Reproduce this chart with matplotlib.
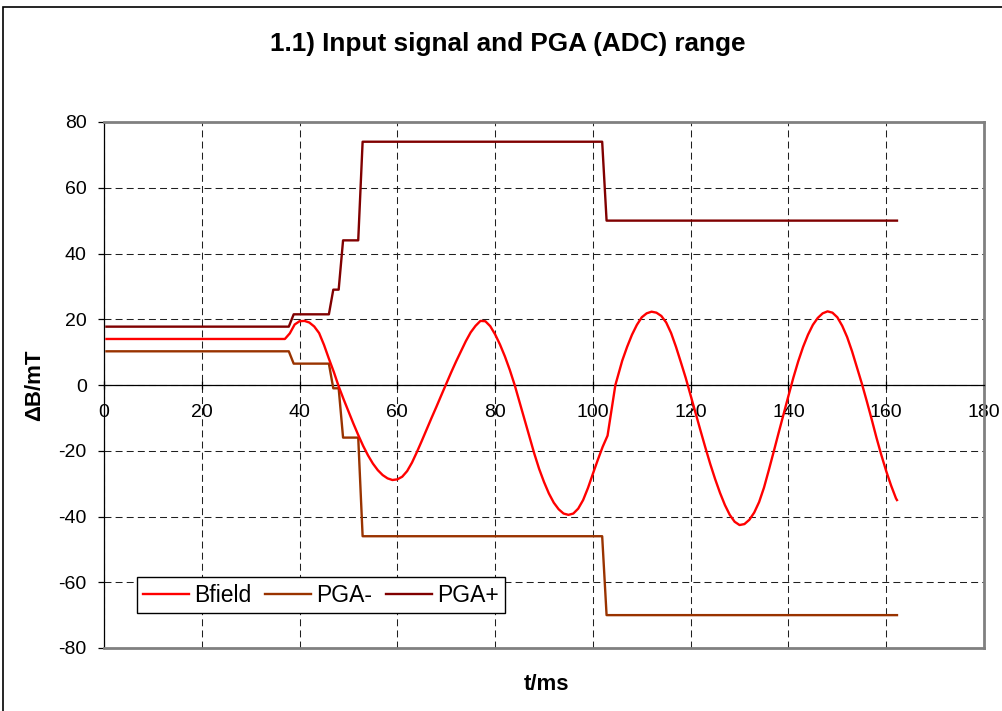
import matplotlib
matplotlib.use('Agg')
import matplotlib.pyplot as plt
from matplotlib.patches import Rectangle
from matplotlib.lines import Line2D

plt.rcParams['font.family'] = ['Liberation Sans', 'DejaVu Sans']
plt.rcParams['lines.scale_dashes'] = False

# ---------------- data ----------------
t_bfield = [0.5, 37, 38, 39, 40, 41, 42, 43, 44, 45, 46, 47, 48, 49, 50,
            51, 52, 53, 54, 55, 56, 57, 58, 59, 60, 61, 62, 63, 64, 65,
            66, 67, 68, 69, 70, 71, 72, 73, 74, 75, 76, 77, 78, 79, 80,
            81, 82, 83, 84, 85, 86, 87, 88, 89, 90, 91, 92, 93, 94, 95,
            96, 97, 98, 99, 100, 101, 102, 103, 104.6, 106, 107, 108, 109, 110,
            111, 112, 113, 114, 115, 116, 117, 118, 119, 120, 121, 122, 123, 124, 125,
            126, 127, 128, 129, 130, 131, 132, 133, 134, 135, 136, 137, 138, 139, 140,
            141, 142, 143, 144, 145, 146, 147, 148, 149, 150, 151, 152, 153, 154, 155,
            156, 157, 158, 159, 160, 161, 162, 162.2]
bfield = [14.0, 14.0, 15.7, 18.4, 19.4, 19.5, 19.0, 17.8, 15.8, 12.2, 8.0, 4.0, -0.4, -4.3, -8.0,
          -11.7, -15.2, -18.5, -21.4, -23.9, -25.9, -27.4, -28.4, -28.9, -28.7, -27.9, -26.2, -23.6, -20.4, -17.0,
          -13.5, -10.0, -6.6, -3.1, 0.35, 3.8, 7.1, 10.2, 13.3, 16.0, 18.0, 19.5, 19.4, 17.9, 15.4,
          12.3, 8.7, 4.6, 0.0, -5.2, -10.4, -15.6, -20.8, -25.5, -29.5, -33.0, -35.8, -37.8, -39.1, -39.5,
          -39.1, -37.6, -35.0, -31.3, -27.0, -22.8, -18.8, -15.4, 0.0, 7.4, 11.6, 15.3, 18.3, 20.6,
          21.8, 22.3, 22.0, 21.0, 19.0, 15.8, 11.6, 6.9, 2.1, -3.2, -8.5, -13.8, -19.0, -24.0, -28.6,
          -32.8, -36.5, -39.5, -41.6, -42.6, -42.3, -41.0, -38.8, -35.6, -31.2, -25.8, -20.2, -14.5, -8.9, -3.3,
          2.2, 7.2, 11.6, 15.3, 18.3, 20.4, 21.8, 22.4, 22.0, 20.6, 18.0, 14.6, 10.3, 5.4, 0.5,
          -4.8, -10.3, -16.0, -21.3, -26.2, -30.6, -34.5, -35.0]

t_pga = [0.5, 37.8, 38.8, 46.0, 46.9, 48.0, 48.9, 52.0, 52.9, 101.9, 102.8, 162.2]
pga_plus = [17.75, 17.75, 21.5, 21.5, 29.0, 29.0, 44.0, 44.0, 74.0, 74.0, 50.0, 50.0]
pga_minus = [10.25, 10.25, 6.5, 6.5, -1.0, -1.0, -16.0, -16.0, -46.0, -46.0, -70.0, -70.0]

x_ticks = [0, 20, 40, 60, 80, 100, 120, 140, 160, 180]
y_ticks = [-80, -60, -40, -20, 0, 20, 40, 60, 80]

title = "1.1) Input signal and PGA (ADC) range"
x_label = "t/ms"
y_label = "\u0394B/mT"
series_names = ["Bfield", "PGA-", "PGA+"]
colors = ["#FF0000", "#993300", "#800000"]

# ---------------- figure ----------------
W, H = 1002, 711
fig = plt.figure(figsize=(W / 100, H / 100), dpi=100)
fig.patch.set_facecolor('white')

# outer chart frame (left and top visible)
fig.add_artist(Rectangle((3 / W, -0.1), 1.2, 1 - 7 / H + 0.1, transform=fig.transFigure,
                         fill=False, ec='black', lw=1.2))

L, R, T, B = 104, 984, 122, 648
ax = fig.add_axes([L / W, 1 - B / H, (R - L) / W, (B - T) / H])

ax.plot(t_bfield, bfield, color=colors[0], lw=1.7, zorder=5)
ax.plot(t_pga, pga_minus, color=colors[1], lw=1.7, zorder=4)
ax.plot(t_pga, pga_plus, color=colors[2], lw=1.7, zorder=4)

ax.set_xlim(0, 180)
ax.set_ylim(-80, 80)
ax.set_xticks(x_ticks)
ax.set_yticks(y_ticks)
ax.set_xticklabels([str(v) for v in x_ticks])
ax.set_yticklabels([str(v) for v in y_ticks])

ax.grid(True, color='#202020', linestyle=(0, (5, 3)), linewidth=0.75, zorder=1)
ax.set_axisbelow(True)

for s in ['top', 'right']:
    ax.spines[s].set_color('#808080')
    ax.spines[s].set_linewidth(2.0)
ax.spines['left'].set_color('black')
ax.spines['left'].set_linewidth(0.9)
ax.spines['bottom'].set_position(('data', 0))
ax.spines['bottom'].set_color('black')
ax.spines['bottom'].set_linewidth(0.9)
ax.plot([0, 1], [0, 0], transform=ax.transAxes, color='#808080', lw=2.0,
        clip_on=False, zorder=6)

ax.tick_params(axis='x', direction='inout', length=6, width=0.9, pad=11, labelsize=14,
               colors='black')
ax.tick_params(axis='y', direction='out', length=4.5, width=0.9, pad=8, labelsize=14)

fig.text(508 / W, 1 - 44 / H, title, ha='center', va='center', fontsize=18.8,
         fontweight='bold')
fig.text(546 / W, 1 - 685 / H, x_label, ha='center', va='center', fontsize=16,
         fontweight='bold')
fig.text(35 / W, 1 - 385 / H, y_label, ha='center', va='center', fontsize=16,
         fontweight='bold', rotation=90)

handles = [Line2D([], [], color=c, lw=1.7) for c in colors]
leg = ax.legend(handles, series_names, ncol=3, loc='lower left',
                bbox_to_anchor=(137 / W, 1 - 613 / H), bbox_transform=fig.transFigure,
                fontsize=16.5, frameon=True, fancybox=False, framealpha=1,
                edgecolor='black', borderpad=0.28, handlelength=2.0,
                handletextpad=0.22, columnspacing=0.6, borderaxespad=0)
leg.get_frame().set_linewidth(1.0)
leg.set_zorder(10)

fig.savefig('out.png', dpi=100)
